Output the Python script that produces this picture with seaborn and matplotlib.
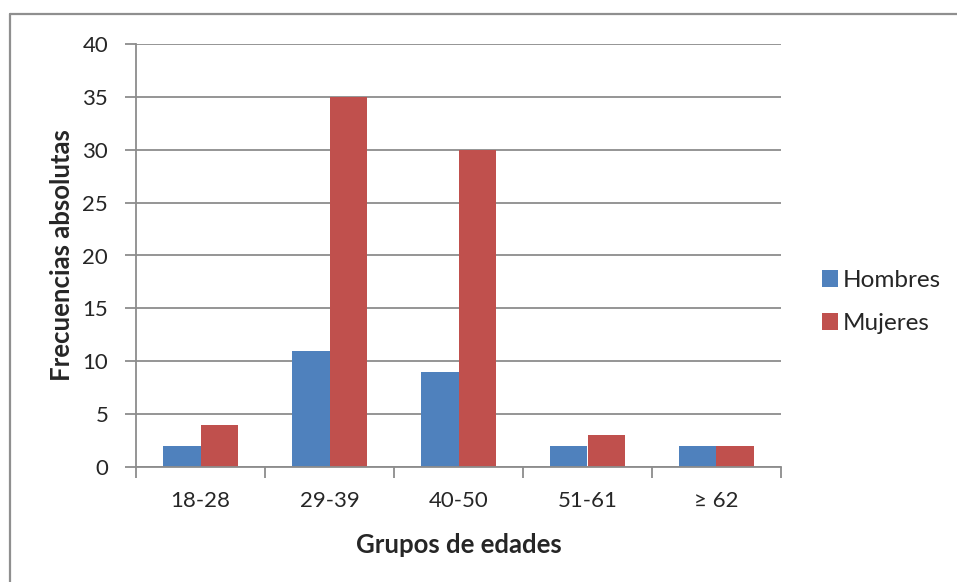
import matplotlib
matplotlib.use("Agg")
import matplotlib.pyplot as plt
from matplotlib.lines import Line2D
from matplotlib.patches import Patch
import seaborn as sns
import pandas as pd

# Age groups and absolute frequencies by sex
grupos = ["18-28", "29-39", "40-50", "51-61", "≥ 62"]
hombres = [2, 11, 9, 2, 2]
mujeres = [4, 35, 30, 3, 2]
series = ["Hombres", "Mujeres"]
colores = ["#4F81BD", "#C0504D"]
y_ticks = [0, 5, 10, 15, 20, 25, 30, 35, 40]

df = pd.DataFrame({
    "grupo": grupos * 2,
    "frecuencia": hombres + mujeres,
    "sexo": [series[0]] * len(grupos) + [series[1]] * len(grupos),
})

sns.set_theme(style="white")
plt.rcParams["font.family"] = ["Lato", "DejaVu Sans"]

W, H = 957, 582
fig = plt.figure(figsize=(W / 100, H / 100), dpi=100)
ax = fig.add_axes([136 / W, 1 - 467 / H, (781 - 136) / W, (467 - 44) / H])

sns.barplot(data=df, x="grupo", y="frecuencia", hue="sexo", order=grupos,
            hue_order=series, palette=colores, width=0.58, saturation=1,
            linewidth=0, ax=ax, legend=False)

grid_c = "#8c8c8c"
ax.set_ylim(0, 40)
ax.set_xlim(-0.5, len(grupos) - 0.5)
ax.set_yticks(y_ticks)
ax.yaxis.grid(True, color=grid_c, linewidth=1.3)
ax.set_axisbelow(True)
for s in ["top", "right"]:
    ax.spines[s].set_visible(False)
for s in ["left", "bottom"]:
    ax.spines[s].set_color(grid_c)
    ax.spines[s].set_linewidth(1.3)

ax.tick_params(axis="y", which="major", length=8, width=1.3, color=grid_c,
               labelsize=16, pad=12, left=True)
ax.tick_params(axis="x", which="major", length=0, labelsize=16, pad=17)
ax.set_xticks([i - 0.5 for i in range(len(grupos) + 1)], minor=True)
ax.tick_params(axis="x", which="minor", length=8, width=1.3, color=grid_c,
               bottom=True)

ax.set_xlabel("Grupos de edades", fontsize=18.5, fontweight="bold")
ax.set_ylabel("Frecuencias absolutas", fontsize=18.5, fontweight="bold")
ax.xaxis.set_label_coords(0.5, (467 - 545) / (467 - 44))
ax.xaxis.label.set_va("center")
ax.yaxis.set_label_coords((62 - 136) / (781 - 136), 0.5)
ax.yaxis.label.set_va("center")
ax.yaxis.label.set_ha("center")

handles = [Patch(facecolor=c, edgecolor="none") for c in colores]
fig.legend(handles, series, loc="center left", bbox_to_anchor=(800 / W, 1 - 302 / H),
           frameon=False, fontsize=17.5, handlelength=0.65, handleheight=0.65,
           handletextpad=0.2, labelspacing=0.9)

# Chart frame lines
frame_c = "#8f8f8f"
fig.add_artist(Line2D([10 / W, 1], [1 - 14 / H, 1 - 14 / H], color=frame_c, lw=1.6,
                      transform=fig.transFigure))
fig.add_artist(Line2D([10 / W, 10 / W], [0, 1 - 14 / H], color=frame_c, lw=1.6,
                      transform=fig.transFigure))

fig.savefig("out.png", dpi=100, facecolor="white")
